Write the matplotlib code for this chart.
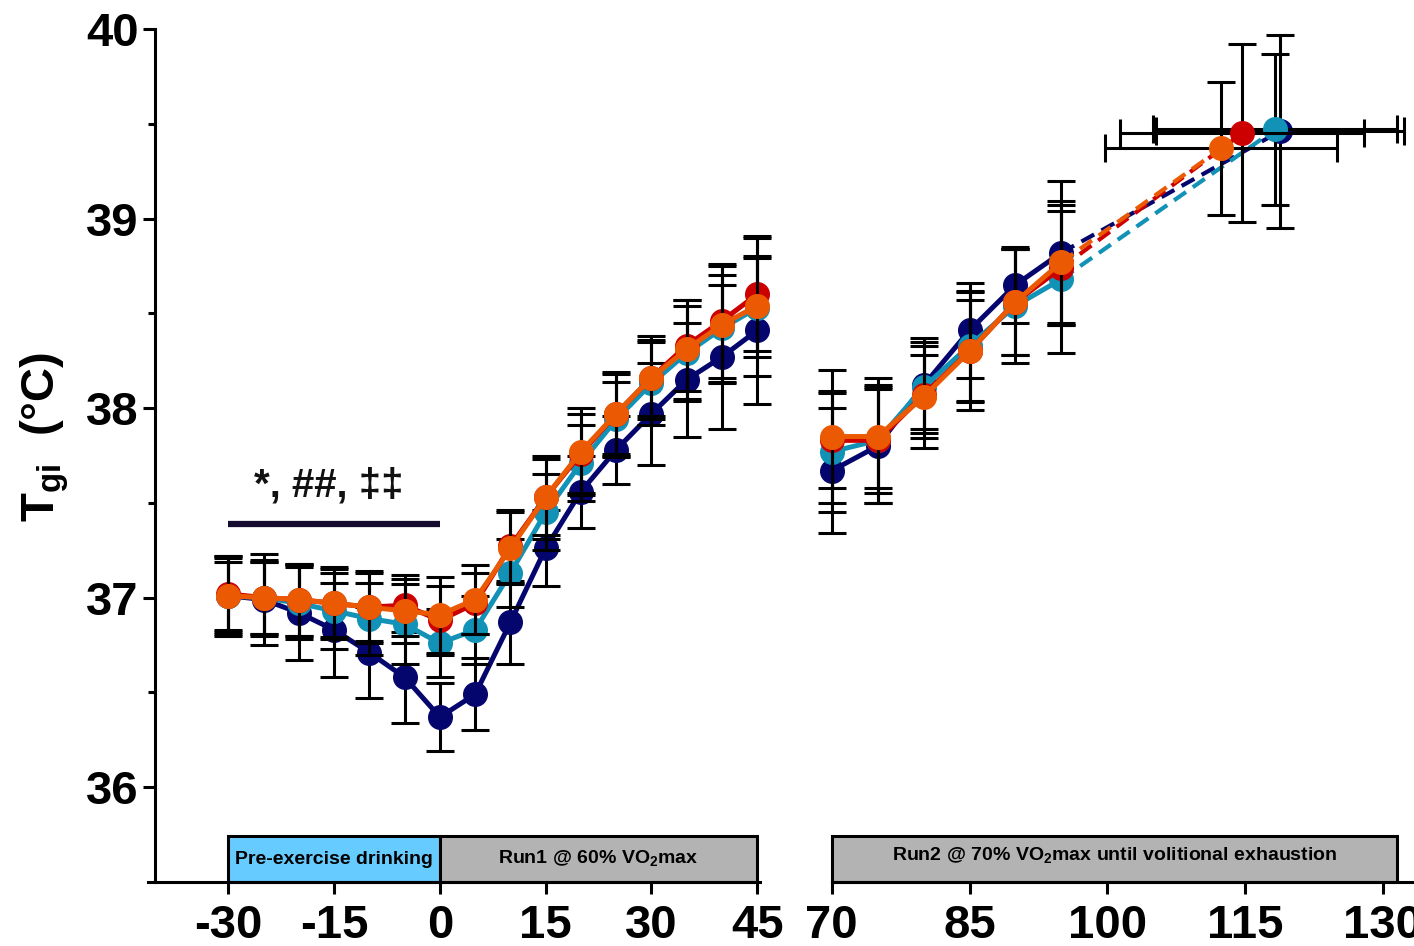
import matplotlib.pyplot as plt
from matplotlib.patches import Rectangle

plt.rcParams['mathtext.fontset'] = 'custom'
plt.rcParams['mathtext.bf'] = 'Liberation Sans:bold'
plt.rcParams['mathtext.rm'] = 'Liberation Sans:bold'

FONT = ['Liberation Sans', 'DejaVu Sans']

# time points (min)
t_run1 = [-30, -25, -20, -15, -10, -5, 0, 5, 10, 15, 20, 25, 30, 35, 40, 45]
t_run2 = [70, 75, 80, 85, 90, 95]

colors = ['#05056e', '#1192b6', '#cc0000', '#eb5a03']

# navy
navy_run1 = [37.01, 36.99, 36.92, 36.83, 36.71, 36.58, 36.37, 36.49, 36.87, 37.26, 37.56, 37.78, 37.97, 38.15, 38.27, 38.41]
navy_run1_sd = [0.21, 0.24, 0.25, 0.25, 0.24, 0.24, 0.18, 0.19, 0.22, 0.20, 0.19, 0.18, 0.27, 0.30, 0.38, 0.39]
navy_run2 = [37.67, 37.80, 38.12, 38.41, 38.65, 38.82]
navy_run2_sd = [0.33, 0.30, 0.25, 0.25, 0.20, 0.38]
navy_end = (118.8, 13.5, 39.46, 0.51)

# cyan
cyan_run1 = [37.01, 37.00, 36.97, 36.93, 36.89, 36.86, 36.76, 36.83, 37.13, 37.45, 37.71, 37.94, 38.13, 38.29, 38.42, 38.53]
cyan_run1_sd = [0.18, 0.19, 0.19, 0.20, 0.19, 0.21, 0.18, 0.18, 0.18, 0.20, 0.20, 0.20, 0.22, 0.25, 0.28, 0.26]
cyan_run2 = [37.77, 37.83, 38.11, 38.33, 38.54, 38.68]
cyan_run2_sd = [0.32, 0.28, 0.22, 0.29, 0.30, 0.39]
cyan_end = (118.3, 13.3, 39.47, 0.40)

# red
red_run1 = [37.02, 37.00, 36.99, 36.97, 36.95, 36.96, 36.88, 36.97, 37.27, 37.53, 37.76, 37.97, 38.16, 38.33, 38.46, 38.60]
red_run1_sd = [0.20, 0.20, 0.19, 0.19, 0.18, 0.16, 0.18, 0.16, 0.19, 0.20, 0.21, 0.21, 0.20, 0.24, 0.30, 0.30]
red_run2 = [37.83, 37.83, 38.07, 38.30, 38.56, 38.74]
red_run2_sd = [0.25, 0.33, 0.28, 0.31, 0.28, 0.30]
red_end = (114.7, 13.3, 39.45, 0.47)

# orange
orange_run1 = [37.01, 37.00, 36.99, 36.97, 36.95, 36.93, 36.91, 36.99, 37.26, 37.53, 37.77, 37.97, 38.16, 38.31, 38.44, 38.54]
orange_run1_sd = [0.20, 0.19, 0.19, 0.18, 0.19, 0.17, 0.20, 0.18, 0.19, 0.22, 0.23, 0.22, 0.22, 0.26, 0.31, 0.37]
orange_run2 = [37.85, 37.85, 38.06, 38.30, 38.56, 38.77]
orange_run2_sd = [0.35, 0.27, 0.22, 0.27, 0.28, 0.32]
orange_end = (112.4, 12.6, 39.37, 0.35)

series = [
    (navy_run1, navy_run1_sd, navy_run2, navy_run2_sd, navy_end),
    (cyan_run1, cyan_run1_sd, cyan_run2, cyan_run2_sd, cyan_end),
    (red_run1, red_run1_sd, red_run2, red_run2_sd, red_end),
    (orange_run1, orange_run1_sd, orange_run2, orange_run2_sd, orange_end),
]

fig = plt.figure(figsize=(14.14, 9.46), dpi=100)
axL = fig.add_axes([148 / 1414, 64 / 946, 612 / 1414, 853 / 946])
axR = fig.add_axes([831.8 / 1414, 64 / 946, (1414 - 831.8) / 1414, 853 / 946])

LW = 2.2
for ax in (axL, axR):
    ax.set_ylim(35.5, 40)
    ax.patch.set_alpha(0)
    for s in ['top', 'right']:
        ax.spines[s].set_visible(False)
    ax.spines['bottom'].set_linewidth(LW)
    ax.spines['left'].set_linewidth(LW)
    ax.tick_params(direction='out', width=LW, length=8.6)
    ax.tick_params(which='minor', direction='out', width=LW, length=5)

axL.set_xlim(-41.4, 45.4)
axL.spines['left'].set_position(('data', -40.4))
axR.set_xlim(70, 133.4)
axR.spines['left'].set_visible(False)
axR.set_yticks([])

# error bars and lines
for i, (r1, r1sd, r2, r2sd, end) in enumerate(series):
    c = colors[i]
    z = 3 + 2 * i
    axL.errorbar(t_run1, r1, yerr=r1sd, fmt='none', ecolor='k', elinewidth=2.2,
                 capsize=10, capthick=2.2, zorder=z, clip_on=False)
    axL.plot(t_run1, r1, '-o', color=c, lw=3.6, ms=17, zorder=z + 1, clip_on=False)
    axR.errorbar(t_run2, r2, yerr=r2sd, fmt='none', ecolor='k', elinewidth=2.2,
                 capsize=10, capthick=2.2, zorder=z, clip_on=False)
    axR.plot(t_run2, r2, '-o', color=c, lw=3.6, ms=17, zorder=z + 1, clip_on=False)
    et, etsd, eT, eTsd = end
    axR.errorbar([et], [eT], xerr=[etsd], yerr=[eTsd], fmt='none', ecolor='k',
                 elinewidth=2.2, capsize=10, capthick=2.2, zorder=z)
    axR.plot([t_run2[-1], et], [r2[-1], eT], color=c, lw=3.0, dashes=(3.5, 2.0),
             zorder=z + 1)
    axR.plot([et], [eT], 'o', color=c, ms=17, zorder=z + 1)

# ticks
axL.set_xticks([-30, -15, 0, 15, 30, 45],
               labels=['-30', '-15', '0', '15', '30', '45'],
               fontsize=34, fontweight='bold', family=FONT)
axR.set_xticks([70, 85, 100, 115, 130],
               labels=['70', '85', '100', '115', '130'],
               fontsize=34, fontweight='bold', family=FONT)
axL.tick_params(axis='x', pad=7)
axR.tick_params(axis='x', pad=7)
axL.set_yticks([36, 37, 38, 39, 40], labels=['36', '37', '38', '39', '40'],
               fontsize=34, fontweight='bold', family=FONT)
axL.set_yticks([36.5, 37.5, 38.5, 39.5], minor=True)
axL.tick_params(axis='y', pad=3)

fig.text(45 / 1414, 1 - 437 / 946, r'$\mathbf{T_{gi}}$  (°C)', rotation=90,
         ha='center', va='center', fontsize=34, fontweight='bold', family=FONT)

# phase boxes
box_top = 35.745
axL.add_patch(Rectangle((-30, 35.5), 30, box_top - 35.5, fc='#66ccff', ec='k',
                        lw=LW, clip_on=False, zorder=2))
axL.add_patch(Rectangle((0, 35.5), 45, box_top - 35.5, fc='#b3b3b3', ec='k',
                        lw=LW, clip_on=False, zorder=2))
axR.add_patch(Rectangle((70, 35.5), 61.6, box_top - 35.5, fc='#b3b3b3', ec='k',
                        lw=LW, clip_on=False, zorder=2))
axL.text(-15, 35.62, 'Pre-exercise drinking', ha='center', va='center',
         fontsize=14, fontweight='bold', family=FONT)
axL.text(22.5, 35.62, r'Run1 @ 60% VO$_2$max', ha='center', va='center',
         fontsize=14, fontweight='bold', family=FONT)
axR.text(100.8, 35.64, r'Run2 @ 70% VO$_2$max until volitional exhaustion',
         ha='center', va='center', fontsize=14, fontweight='bold', family=FONT)

# significance marker
axL.plot([-30, 0], [37.39, 37.39], color='#160c30', lw=4.5, solid_capstyle='butt')
axL.text(-15.8, 37.59, '*, ##, ‡‡', ha='center', va='center', fontsize=29,
         fontweight='bold', family=FONT, color='#111111')

fig.savefig('out.png', dpi=100)
